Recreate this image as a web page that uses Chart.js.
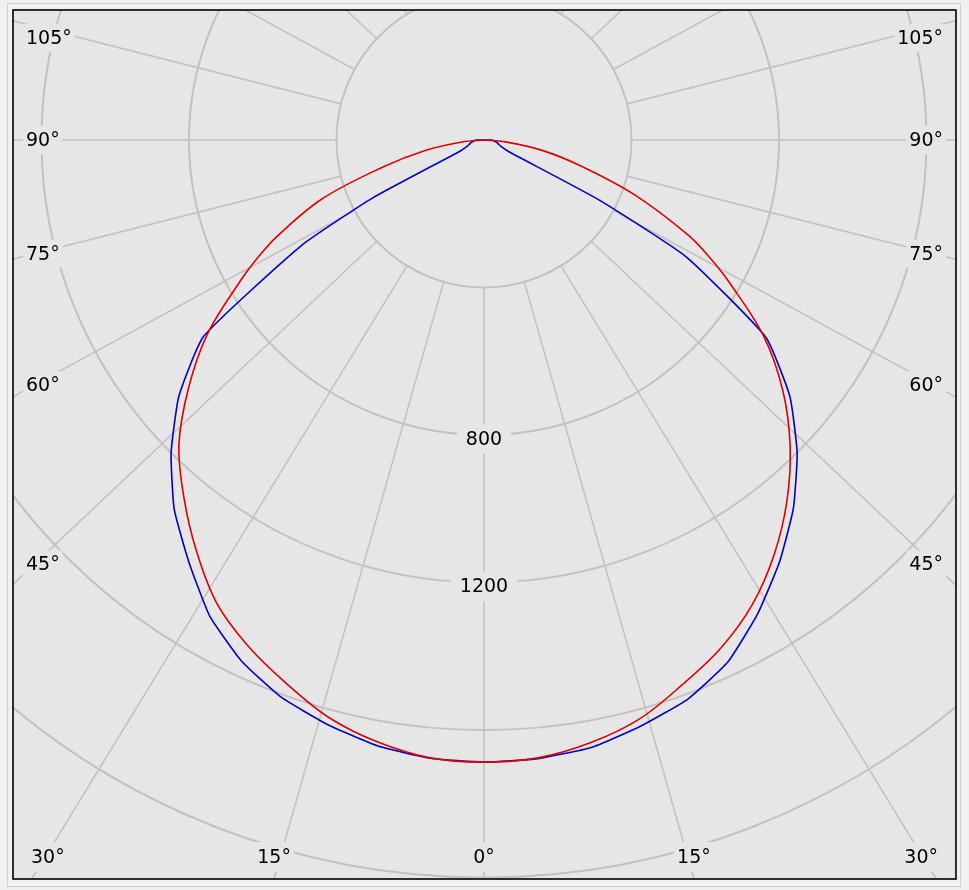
<!DOCTYPE html>
<html>
<head>
<meta charset="utf-8">
<script src="https://cdn.jsdelivr.net/npm/chart.js@4"></script>
<style>
html, body { margin: 0; padding: 0; background: #f0f0f0; }
canvas { display: block; }
</style>
</head>
<body>
<canvas id="polarChart" width="969" height="890"></canvas>
<script>
// gamma angle from nadir (deg) and luminous intensity (cd) of each half plane
const gammaAngles = [0, 5, 10, 15, 20, 25, 30, 35, 40, 45, 50, 55, 60, 62.5, 65, 70, 75, 80, 85, 90, 180];
const redRight  = [1687, 1682, 1660, 1626, 1572, 1520, 1455, 1372, 1278, 1174, 1058, 925, 765, 690, 612, 435, 272, 158, 58, 0, 0];
const redLeft   = [1687, 1682, 1658, 1622, 1568, 1514, 1450, 1360, 1266, 1170, 1046, 915, 762, 692, 620, 468, 285, 160, 60, 0, 0];
const blueRight = [1687, 1684, 1673, 1645, 1614, 1563, 1484, 1397, 1305, 1201, 1083, 933, 632, 350, 72, 48, 40, 34, 28, 20, 0];
const blueLeft  = [1687, 1683, 1668, 1641, 1608, 1558, 1489, 1396, 1307, 1200, 1080, 928, 570, 340, 72, 48, 40, 34, 28, 20, 0];

const ringValues = [400, 800, 1200, 1600, 2000, 2400];
const ringLabels = [800, 1200];
const spokeAngles = [0, 15, 30, 45, 60, 75, 90, 105, 120, 135, 150, 165, 180];
const sideLabelAngles = [45, 60, 75, 90, 105];
const bottomLabelAngles = [0, 15, 30];

// layout
const CX = 484, CY = 140;
const PX_PER_CD = 147.5 / 400;
const FRAME = { l: 13, t: 10, r: 956, b: 879 };
const PLOT_BG = '#e6e6e6';
const GRID = '#c2c2c2';
const FONT = '19px "DejaVu Sans"';
const SPOKE_ASPECT = 1.06; // spokes in the original sit a little wider than the true angle
const SIDE_DIST = 450;

const rad = d => d * Math.PI / 180;

function toXY(g, v, side) {
    return { x: side * v * Math.sin(rad(g)), y: -v * Math.cos(rad(g)) };
}

function planePoints(left, right) {
    const pts = [];
    for (let i = gammaAngles.length - 1; i >= 0; i--) pts.push(toXY(gammaAngles[i], left[i], -1));
    for (let i = 1; i < gammaAngles.length; i++) pts.push(toXY(gammaAngles[i], right[i], 1));
    return pts;
}

function drawLabel(ctx, text, x, y, align, padX, padY) {
    ctx.font = FONT;
    const w = ctx.measureText(text).width;
    let left = align === 'left' ? x : align === 'right' ? x - w : x - w / 2;
    ctx.fillStyle = PLOT_BG;
    ctx.fillRect(left - padX, y - 9 - padY, w + padX * 2, 18 + padY * 2);
    ctx.fillStyle = '#000';
    ctx.textAlign = 'left';
    ctx.textBaseline = 'middle';
    ctx.fillText(text, left, y + 1);
}

const polarGrid = {
    id: 'polarGrid',
    beforeDatasetsDraw(chart) {
        const { ctx, chartArea: a, scales } = chart;
        const cx = scales.x.getPixelForValue(0);
        const cy = scales.y.getPixelForValue(0);
        const radius = v => scales.x.getPixelForValue(v) - cx;

        ctx.save();
        ctx.beginPath();
        ctx.rect(a.left, a.top, a.right - a.left, a.bottom - a.top);
        ctx.clip();
        ctx.fillStyle = PLOT_BG;
        ctx.fillRect(a.left, a.top, a.right - a.left, a.bottom - a.top);

        ctx.strokeStyle = GRID;
        ctx.lineWidth = 2;
        ringValues.forEach(v => {
            ctx.beginPath();
            ctx.arc(cx, cy, radius(v), 0, Math.PI * 2);
            ctx.stroke();
        });

        const r0 = radius(ringValues[0]);
        ctx.lineWidth = 1.6;
        spokeAngles.forEach(g => {
            [-1, 1].forEach(side => {
                if ((g === 0 || g === 180) && side < 0) return;
                let dx = side * SPOKE_ASPECT * Math.sin(rad(g)), dy = Math.cos(rad(g));
                const n = Math.hypot(dx, dy);
                dx /= n; dy /= n;
                ctx.beginPath();
                ctx.moveTo(cx + dx * r0, cy + dy * r0);
                ctx.lineTo(cx + dx * 2000, cy + dy * 2000);
                ctx.stroke();
            });
        });

        // angle labels along the frame
        sideLabelAngles.forEach(g => {
            const dx = SPOKE_ASPECT * Math.sin(rad(g)), dy = Math.cos(rad(g));
            const y = Math.max(cy + SIDE_DIST * dy / dx, FRAME.t + 28);
            drawLabel(ctx, g + '°', FRAME.l + 13, y, 'left', 3, 5);
            drawLabel(ctx, g + '°', FRAME.r - 13, y, 'right', 3, 5);
        });
        ctx.font = FONT;
        bottomLabelAngles.forEach(g => {
            const text = g + '°';
            const w = ctx.measureText(text).width;
            const off = (FRAME.b - cy) * SPOKE_ASPECT * Math.tan(rad(g));
            const y = FRAME.b - 22;
            [-1, 1].forEach(side => {
                if (g === 0 && side < 0) return;
                let x = cx + side * off;
                x = Math.min(Math.max(x, FRAME.l + 18 + w / 2), FRAME.r - 18 - w / 2);
                drawLabel(ctx, text, x, y, 'center', 3, 6);
            });
        });

        ringLabels.forEach(v => {
            drawLabel(ctx, String(v), cx, cy + radius(v) + 4, 'center', 9, 6);
        });
        ctx.restore();
    },
    afterDraw(chart) {
        const ctx = chart.ctx;
        ctx.save();
        ctx.strokeStyle = '#cdcdcd';
        ctx.lineWidth = 1;
        ctx.strokeRect(7.5, 3.5, 953, 883);
        ctx.strokeStyle = '#000';
        ctx.lineWidth = 1.6;
        ctx.strokeRect(FRAME.l, FRAME.t, FRAME.r - FRAME.l, FRAME.b - FRAME.t);
        ctx.restore();
    }
};

new Chart(document.getElementById('polarChart'), {
    type: 'scatter',
    data: {
        datasets: [
            { label: 'C0 - C180', data: planePoints(redLeft, redRight), borderColor: '#e00000', tension: 0.35 },
            { label: 'C90 - C270', data: planePoints(blueLeft, blueRight), borderColor: '#0000d0', tension: 0.15 }
        ]
    },
    options: {
        responsive: false,
        animation: false,
        events: [],
        showLine: true,
        elements: {
            point: { radius: 0 },
            line: { borderWidth: 1.6, fill: false }
        },
        layout: { padding: { left: FRAME.l, top: FRAME.t, right: 969 - FRAME.r, bottom: 890 - FRAME.b } },
        scales: {
            x: { type: 'linear', display: false, bounds: 'data',
                 min: (FRAME.l - CX) / PX_PER_CD, max: (FRAME.r - CX) / PX_PER_CD },
            y: { type: 'linear', display: false, bounds: 'data',
                 min: (CY - FRAME.b) / PX_PER_CD, max: (CY - FRAME.t) / PX_PER_CD }
        },
        plugins: { legend: { display: false }, tooltip: { enabled: false } }
    },
    plugins: [polarGrid]
});
</script>
</body>
</html>
